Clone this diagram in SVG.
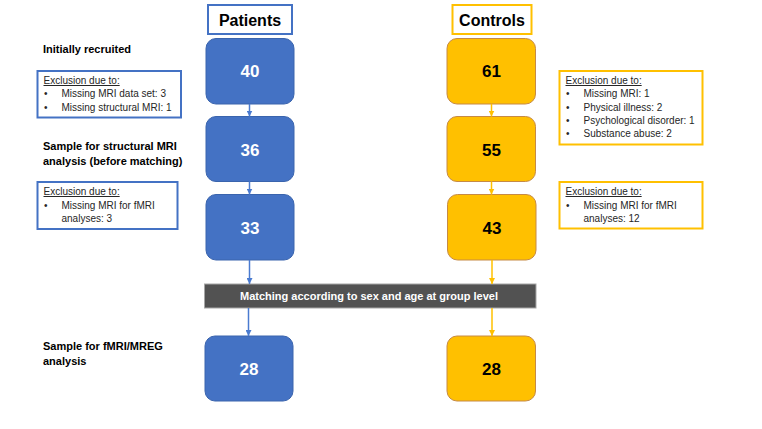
<svg xmlns="http://www.w3.org/2000/svg" width="762" height="429" viewBox="0 0 762 429">
<defs>
<marker id="ab" viewBox="0 0 6 6" refX="6" refY="3" markerWidth="6" markerHeight="6" markerUnits="userSpaceOnUse" orient="auto"><path d="M0,0 L6,3 L0,6 z" fill="#4a7bd0"/></marker>
<marker id="ay" viewBox="0 0 6 6" refX="6" refY="3" markerWidth="6" markerHeight="6" markerUnits="userSpaceOnUse" orient="auto"><path d="M0,0 L6,3 L0,6 z" fill="#ffc000"/></marker>
</defs>
<style>
text{font-family:"Liberation Sans",Arial,sans-serif;}
.pn{fill:#4472c4;stroke:#3a64ad;stroke-width:1;}
.cn{fill:#ffc000;stroke:#c68a45;stroke-width:1;}
.num{font-size:17px;font-weight:bold;text-anchor:middle;}
.hdr{font-size:16px;font-weight:bold;text-anchor:middle;fill:#000;}
.lab{font-size:11px;font-weight:bold;fill:#000;}
.ex{font-size:10px;fill:#262626;}
.exb{fill:#fff;stroke-width:2;}
.cb{stroke:#4a7bd0;stroke-width:1.5;fill:none;}
.cy{stroke:#ffc000;stroke-width:1.5;fill:none;}
</style>
<rect width="762" height="429" fill="#fff"/>

<g id="hdr-patients"><rect x="208" y="5" width="84" height="29" fill="#fff" stroke="#4472c4" stroke-width="2"/><text class="hdr" x="250" y="26">Patients</text></g>
<g id="hdr-controls"><rect x="452.5" y="5" width="79" height="29" fill="#fff" stroke="#ffc000" stroke-width="2"/><text class="hdr" x="492" y="26">Controls</text></g>

<g id="label-1"><text class="lab" x="43" y="53">Initially recruited</text></g>
<g id="label-2"><text class="lab" x="43" y="150">Sample for structural MRI</text><text class="lab" x="43" y="164.5">analysis (before matching)</text></g>
<g id="label-3"><text class="lab" x="43" y="350">Sample for fMRI/MREG</text><text class="lab" x="43" y="364.5">analysis</text></g>

<g id="p40"><rect class="pn" x="206" y="38.5" width="88" height="65.5" rx="10"/><text class="num" x="250" y="77" fill="#fff">40</text></g>
<g id="p36"><rect class="pn" x="206" y="116.5" width="88" height="65" rx="10"/><text class="num" x="250" y="155.5" fill="#fff">36</text></g>
<g id="p33"><rect class="pn" x="206" y="194.5" width="88" height="65.5" rx="10"/><text class="num" x="250" y="233.5" fill="#fff">33</text></g>
<g id="p28"><rect class="pn" x="205" y="336" width="88" height="65" rx="10"/><text class="num" x="249" y="374.5" fill="#fff">28</text></g>

<g id="c61"><rect class="cn" x="447" y="38.5" width="88.5" height="65.5" rx="10"/><text class="num" x="491.5" y="77" fill="#000">61</text></g>
<g id="c55"><rect class="cn" x="447" y="116.5" width="88.5" height="65" rx="10"/><text class="num" x="491.5" y="155.5" fill="#000">55</text></g>
<g id="c43"><rect class="cn" x="447.5" y="194.5" width="88.5" height="65.5" rx="10"/><text class="num" x="492" y="233.5" fill="#000">43</text></g>
<g id="c28"><rect class="cn" x="447" y="336" width="88.5" height="65" rx="10"/><text class="num" x="491.5" y="374.5" fill="#000">28</text></g>

<g id="matching"><rect x="204.5" y="284" width="331.5" height="24" fill="#525252" stroke="#a6a6a6" stroke-width="1"/><text x="369" y="300" font-size="11px" font-weight="bold" fill="#fff" text-anchor="middle">Matching according to sex and age at group level</text></g>

<g id="excl-p1"><rect class="exb" x="37.5" y="71" width="143.5" height="46.5" stroke="#4472c4"/>
<text class="ex" x="43.5" y="84" text-decoration="underline">Exclusion due to:</text>
<text class="ex" x="44" y="97.3">•</text><text class="ex" x="61.5" y="97.3">Missing MRI data set: 3</text>
<text class="ex" x="44" y="110.8">•</text><text class="ex" x="61.5" y="110.8">Missing structural MRI: 1</text></g>

<g id="excl-p2"><rect class="exb" x="37.5" y="182" width="140" height="47" stroke="#4472c4"/>
<text class="ex" x="43.5" y="195" text-decoration="underline">Exclusion due to:</text>
<text class="ex" x="44" y="208.5">•</text><text class="ex" x="61.5" y="208.5">Missing MRI for fMRI</text>
<text class="ex" x="61.5" y="222">analyses: 3</text></g>

<g id="excl-c1"><rect class="exb" x="559.5" y="71" width="143" height="73.5" stroke="#ffc000"/>
<text class="ex" x="565.5" y="84" text-decoration="underline">Exclusion due to:</text>
<text class="ex" x="566" y="97.3">•</text><text class="ex" x="583.5" y="97.3">Missing MRI: 1</text>
<text class="ex" x="566" y="110.8">•</text><text class="ex" x="583.5" y="110.8">Physical illness: 2</text>
<text class="ex" x="566" y="124">•</text><text class="ex" x="583.5" y="124">Psychological disorder: 1</text>
<text class="ex" x="566" y="137.3">•</text><text class="ex" x="583.5" y="137.3">Substance abuse: 2</text></g>

<g id="excl-c2"><rect class="exb" x="559.5" y="182" width="143" height="46.5" stroke="#ffc000"/>
<text class="ex" x="565.5" y="195" text-decoration="underline">Exclusion due to:</text>
<text class="ex" x="566" y="208.5">•</text><text class="ex" x="583.5" y="208.5">Missing MRI for fMRI</text>
<text class="ex" x="583.5" y="222">analyses: 12</text></g>

<g id="connectors">
<line class="cb" x1="249.5" y1="104" x2="249.5" y2="116.5" marker-end="url(#ab)"/>
<line class="cb" x1="249.5" y1="181.5" x2="249.5" y2="194.5" marker-end="url(#ab)"/>
<line class="cb" x1="249.5" y1="260" x2="249.5" y2="284" marker-end="url(#ab)"/>
<line class="cb" x1="248.5" y1="308" x2="248.5" y2="336" marker-end="url(#ab)"/>
<line class="cy" x1="491.5" y1="104" x2="491.5" y2="116.5" marker-end="url(#ay)"/>
<line class="cy" x1="491.5" y1="181.5" x2="491.5" y2="194.5" marker-end="url(#ay)"/>
<line class="cy" x1="492" y1="260" x2="492" y2="284" marker-end="url(#ay)"/>
<line class="cy" x1="492" y1="308" x2="492" y2="336" marker-end="url(#ay)"/>
</g>
</svg>
